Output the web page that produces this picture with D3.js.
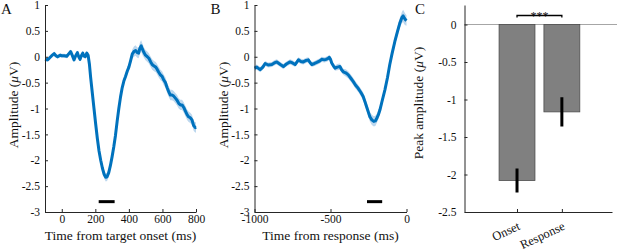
<!DOCTYPE html>
<html lang="en">
<head>
<meta charset="UTF-8">
<title>Peak amplitude</title>
<script src="https://d3js.org/d3.v7.min.js"></script>
<style>
    body { margin: 0; background: #fff; }
    svg text { font-family: "Liberation Serif", "Times New Roman", serif; fill: #111; }
    .axis path, .axis line { stroke: #262626; stroke-width: 1px; }
    .axis text { font-size: 11.5px; font-family: "Liberation Serif", serif; fill: #111; }
    .title { font-size: 13.5px; }
    .letter { font-size: 15px; }
</style>
</head>
<body>
<svg id="chart" width="617" height="252"></svg>
<script>
// panel A: time locked to target onset
const timeA = [
    -100, -85, -75, -60, -45, -35, -25, -10, 0, 15,
    30, 45, 53, 62, 73, 83, 93, 101, 109, 118,
    125, 133, 140, 149, 157, 165, 172, 182, 192, 202,
    212, 222, 232, 242, 252, 262, 270, 280, 290, 300,
    310, 320, 330, 340, 350, 360, 370, 380, 390, 400,
    410, 420, 430, 440, 450, 458, 466, 473, 480, 490,
    499, 510, 519, 530, 539, 550, 560, 568, 578, 588,
    598, 608, 618, 628, 638, 647, 657, 667, 677, 687,
    697, 707, 717, 727, 737, 747, 756, 766, 776, 786,
    796, 800
];
const ampA = [
    -0.05, -0.06, -0.03, 0.02, 0.06, 0.02, 0.0, 0.03, 0.02, 0.02,
    0.01, 0.07, 0.1, 0.03, -0.06, 0.02, 0.08, 0.0, -0.05, 0.03,
    0.07, 0.01, 0.0, 0.07, 0.03, -0.15, -0.4, -0.7, -1.0, -1.3,
    -1.58, -1.82, -2.0, -2.15, -2.27, -2.33, -2.32, -2.24, -2.1, -1.93,
    -1.74, -1.52, -1.25, -1.0, -0.78, -0.6, -0.47, -0.38, -0.28, -0.2,
    -0.08, 0.05, 0.1, 0.12, 0.08, 0.07, 0.17, 0.21, 0.15, 0.08,
    0.03, 0.0, -0.03, -0.1, -0.15, -0.18, -0.2, -0.24, -0.3, -0.35,
    -0.38, -0.45, -0.5, -0.6, -0.68, -0.74, -0.74, -0.76, -0.8, -0.84,
    -0.9, -0.93, -0.93, -0.98, -1.05, -1.12, -1.16, -1.18, -1.22, -1.33,
    -1.37, -1.36
];
const semA = [
    0.04, 0.04, 0.04, 0.04, 0.04, 0.04, 0.04, 0.04, 0.04, 0.04,
    0.04, 0.04, 0.04, 0.04, 0.04, 0.04, 0.04, 0.04, 0.04, 0.04,
    0.04, 0.04, 0.04, 0.04, 0.04, 0.04, 0.05, 0.05, 0.05, 0.05,
    0.06, 0.06, 0.07, 0.07, 0.08, 0.08, 0.08, 0.08, 0.07, 0.07,
    0.06, 0.06, 0.06, 0.06, 0.06, 0.06, 0.06, 0.06, 0.07, 0.07,
    0.08, 0.09, 0.1, 0.1, 0.1, 0.1, 0.11, 0.11, 0.11, 0.1,
    0.1, 0.1, 0.1, 0.1, 0.1, 0.1, 0.1, 0.1, 0.1, 0.1,
    0.1, 0.1, 0.1, 0.1, 0.1, 0.1, 0.1, 0.1, 0.1, 0.1,
    0.1, 0.1, 0.1, 0.1, 0.1, 0.1, 0.1, 0.1, 0.1, 0.1,
    0.1, 0.1
];

// panel B: time locked to response
const timeB = [
    -1000, -985, -963, -945, -930, -910, -886, -870, -853, -830,
    -810, -790, -766, -750, -733, -711, -695, -679, -660, -646,
    -635, -623, -605, -590, -570, -558, -540, -529, -515, -508,
    -500, -492, -480, -470, -455, -438, -427, -416, -400, -383,
    -365, -350, -335, -318, -300, -285, -272, -262, -250, -241,
    -228, -215, -205, -197, -185, -175, -160, -142, -125, -110,
    -95, -77, -60, -44, -30, -22, -15, -8, 0
];
const ampB = [
    -0.22, -0.2, -0.25, -0.2, -0.13, -0.16, -0.15, -0.12, -0.1, -0.15,
    -0.19, -0.14, -0.1, -0.12, -0.15, -0.06, -0.09, -0.1, -0.07, -0.06,
    -0.11, -0.15, -0.13, -0.11, -0.08, -0.05, -0.06, -0.05, -0.03, -0.01,
    -0.05, -0.12, -0.18, -0.22, -0.2, -0.19, -0.25, -0.29, -0.31, -0.35,
    -0.42, -0.48, -0.55, -0.61, -0.69, -0.77, -0.88, -0.97, -1.08, -1.16,
    -1.22, -1.25, -1.24, -1.2, -1.12, -1.03, -0.85, -0.64, -0.4, -0.15,
    0.06, 0.29, 0.48, 0.65, 0.76, 0.79, 0.75, 0.72, 0.7
];
const semB = [
    0.05, 0.05, 0.05, 0.05, 0.05, 0.05, 0.05, 0.05, 0.05, 0.05,
    0.05, 0.05, 0.05, 0.05, 0.05, 0.05, 0.05, 0.05, 0.05, 0.05,
    0.05, 0.05, 0.05, 0.05, 0.05, 0.05, 0.05, 0.05, 0.05, 0.05,
    0.05, 0.05, 0.05, 0.05, 0.06, 0.06, 0.06, 0.06, 0.07, 0.07,
    0.07, 0.07, 0.07, 0.07, 0.07, 0.08, 0.08, 0.08, 0.09, 0.09,
    0.1, 0.1, 0.1, 0.09, 0.09, 0.08, 0.08, 0.08, 0.08, 0.08,
    0.08, 0.08, 0.09, 0.1, 0.11, 0.12, 0.12, 0.11, 0.1
];

// significant windows (ms), drawn at sigLevel
const sigA = [220, 315];
const sigB = [-260, -160];
const sigLevel = -2.8;

// panel C: peak amplitude
const categories = ["Onset", "Response"];
const peakMean = [-2.08, -1.165];
const peakSem = [0.16, 0.195];

const ampTicks = [1, 0.5, 0, -0.5, -1, -1.5, -2, -2.5, -3];
const onsetTicks = [0, 200, 400, 600, 800];
const respTicks = [-1000, -500, 0];
const peakTicks = [0, -0.5, -1, -1.5, -2, -2.5];

const svg = d3.select("#chart");
const blue = "#0072bd";
const band = "#bcd7ee";
const yTop = 5, yBottom = 212;
const fmt = d => String(d);

function erpPanel(opts) {
    const x = d3.scaleLinear().domain(opts.xDomain).range(opts.xRange);
    const y = d3.scaleLinear().domain([-3, 1]).range([yBottom, yTop]);
    const rows = opts.t.map((t, i) => ({ t: t, m: opts.m[i], s: opts.s[i] }));

    svg.append("path")
        .datum(rows)
        .attr("fill", band)
        .attr("d", d3.area().x(d => x(d.t)).y0(d => y(d.m - d.s)).y1(d => y(d.m + d.s)));

    svg.append("path")
        .datum(rows)
        .attr("fill", "none")
        .attr("stroke", blue)
        .attr("stroke-width", 3)
        .attr("stroke-linejoin", "round")
        .attr("d", d3.line().x(d => x(d.t)).y(d => y(d.m)));

    svg.append("line")
        .attr("x1", x(opts.sig[0])).attr("x2", x(opts.sig[1]))
        .attr("y1", y(sigLevel)).attr("y2", y(sigLevel))
        .attr("stroke", "#000").attr("stroke-width", 3);

    svg.append("g").attr("class", "axis")
        .attr("transform", `translate(0,${yBottom})`)
        .call(d3.axisBottom(x).tickValues(opts.xTicks).tickFormat(fmt).tickSizeInner(-3).tickSizeOuter(0).tickPadding(3));

    svg.append("g").attr("class", "axis")
        .attr("transform", `translate(${opts.xRange[0]},0)`)
        .call(d3.axisLeft(y).tickValues(ampTicks).tickFormat(fmt).tickSizeInner(-3).tickSizeOuter(0).tickPadding(5));

    svg.append("text").attr("class", "title")
        .attr("x", (opts.xRange[0] + opts.xRange[1]) / 2).attr("y", 239.5)
        .attr("text-anchor", "middle")
        .text(opts.xLabel);

    const yl = svg.append("text").attr("class", "title")
        .attr("transform", `translate(${opts.xRange[0] - 27},105) rotate(-90)`)
        .attr("text-anchor", "middle");
    yl.append("tspan").text("Amplitude (");
    yl.append("tspan").attr("font-style", "italic").text("\u03bc");
    yl.append("tspan").text("V)");

    svg.append("text").attr("class", "letter")
        .attr("x", opts.xRange[0] - 44).attr("y", 13.5)
        .text(opts.letter);
}

erpPanel({ t: timeA, m: ampA, s: semA, xDomain: [-100, 800], xRange: [45, 196],
    xTicks: onsetTicks, sig: sigA, xLabel: "Time from target onset (ms)", letter: "A" });
erpPanel({ t: timeB, m: ampB, s: semB, xDomain: [-1000, 0], xRange: [254.5, 406.5],
    xTicks: respTicks, sig: sigB, xLabel: "Time from response (ms)", letter: "B" });

// panel C
const cx = d3.scaleLinear().domain([-0.171, 3.118]).range([464.5, 612]);
const cy = d3.scaleLinear().domain([-2.5, 0.26]).range([yBottom, yTop]);
const barW = 0.8;
const barData = categories.map((c, i) => ({ name: c, i: i + 1, m: peakMean[i], s: peakSem[i] }));

svg.append("line")
    .attr("x1", cx(-0.171)).attr("x2", 617)
    .attr("y1", cy(0)).attr("y2", cy(0))
    .attr("stroke", "#a6a6a6").attr("stroke-width", 1.2);

svg.selectAll(".bar").data(barData).enter().append("rect")
    .attr("class", "bar")
    .attr("x", d => cx(d.i - barW / 2))
    .attr("width", d => cx(d.i + barW / 2) - cx(d.i - barW / 2))
    .attr("y", cy(0))
    .attr("height", d => cy(d.m) - cy(0))
    .attr("fill", "#808080")
    .attr("stroke", "#4d4d4d")
    .attr("stroke-width", 0.8);

svg.selectAll(".err").data(barData).enter().append("line")
    .attr("class", "err")
    .attr("x1", d => cx(d.i)).attr("x2", d => cx(d.i))
    .attr("y1", d => cy(d.m + d.s)).attr("y2", d => cy(d.m - d.s))
    .attr("stroke", "#000").attr("stroke-width", 3);

// significance bracket
const bY = 15.5;
svg.append("path")
    .attr("d", `M${cx(1)},${bY + 2}V${bY}H${cx(2)}V${bY + 2}`)
    .attr("fill", "none").attr("stroke", "#000").attr("stroke-width", 1.3);
svg.append("text")
    .attr("x", (cx(1) + cx(2)) / 2).attr("y", 20)
    .attr("text-anchor", "middle").attr("font-size", "12px")
    .text("***");

svg.append("g").attr("class", "axis")
    .attr("transform", `translate(0,${yBottom})`)
    .call(d3.axisBottom(cx).tickValues([1, 2]).tickFormat("").tickSizeInner(-3).tickSizeOuter(0));

svg.append("g").attr("class", "axis")
    .attr("transform", `translate(464.5,0)`)
    .call(d3.axisLeft(cy).tickValues(peakTicks).tickFormat(fmt).tickSizeInner(-3).tickSizeOuter(0).tickPadding(8));

svg.selectAll(".cat").data(barData).enter().append("text")
    .attr("class", "cat")
    .attr("font-size", "12.5px")
    .attr("text-anchor", "end")
    .attr("transform", d => `translate(${cx(d.i) + 4},${yBottom + 17}) rotate(-25)`)
    .text(d => d.name);

const cl = svg.append("text").attr("class", "title")
    .attr("transform", `translate(423,103) rotate(-90)`)
    .attr("text-anchor", "middle");
cl.append("tspan").text("Peak amplitude (");
cl.append("tspan").attr("font-style", "italic").text("\u03bc");
cl.append("tspan").text("V)");

svg.append("text").attr("class", "letter")
    .attr("x", 415).attr("y", 13.5)
    .text("C");
</script>
</body>
</html>
